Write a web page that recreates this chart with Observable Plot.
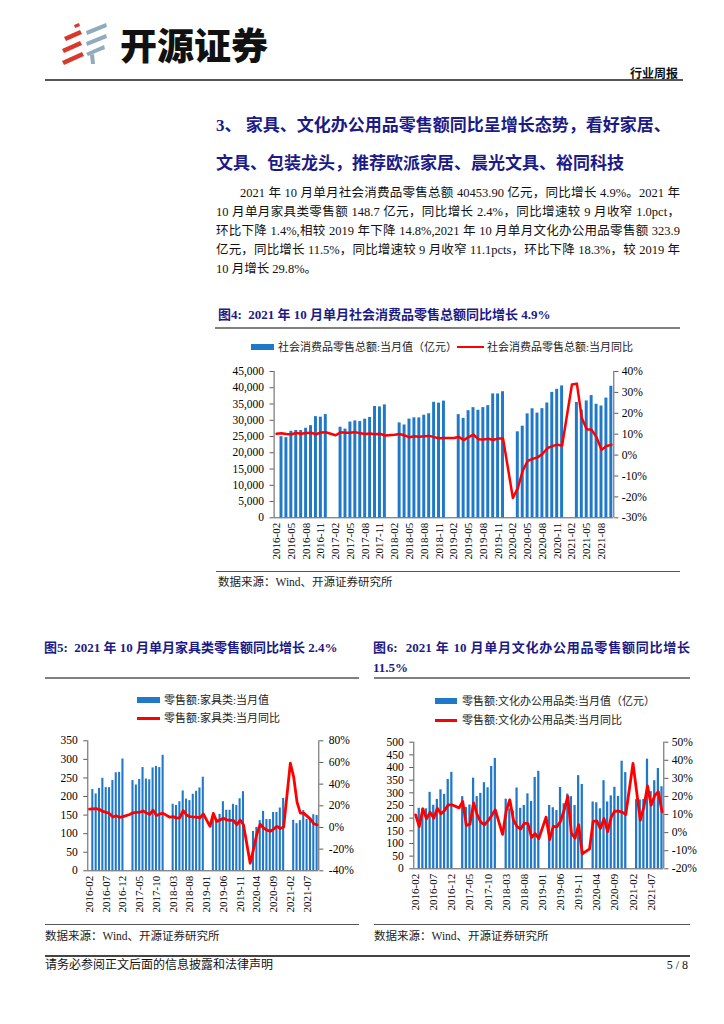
<!DOCTYPE html>
<html><head><meta charset="utf-8">
<script src="https://cdn.jsdelivr.net/npm/d3@7"></script>
<script src="https://cdn.jsdelivr.net/npm/@observablehq/plot@0.6"></script>
<style>
body{margin:0;background:#fff;}
#page{position:relative;width:724px;height:1024px;overflow:hidden;background:#fff;font-family:"Liberation Serif","Noto Sans CJK SC",serif;color:#111;}
.a{position:absolute;white-space:nowrap;}
.hr{position:absolute;height:0;}
.ttl{font-weight:700;color:#1c1a86;font-size:13px;line-height:18px;}
.jl{font-size:12.5px;line-height:19px;text-align:justify;text-align-last:justify;overflow:visible;}
.hd{font-weight:700;color:#1c1a86;font-size:17px;line-height:24px;}
.lg{font-size:11px;line-height:14px;color:#222;}
.src{font-size:11.5px;line-height:16px;color:#222;}
.plot{position:absolute;}
.plot svg{max-width:none !important;}
</style></head>
<body><div id="page">
<svg class="a" style="left:60px;top:23px" width="48" height="42" viewBox="0 0 48 42">
  <polygon points="14,2 19,0 20,3 15,5" fill="#d8392c"/>
  <polygon points="4,14 20,7 22,11 6,18" fill="#d8392c"/>
  <polygon points="2,26 20,18 22,22 4,30" fill="#d8392c"/>
  <polygon points="2,38 22,29 24,33 4,42" fill="#d8392c"/>
  <polygon points="26,8 46,0 47,4 27,12" fill="#90abbc"/>
  <polygon points="26,19 46,11 47,15 27,23" fill="#90abbc"/>
  <polygon points="26,30 44,22 45,26 28,33" fill="#90abbc"/>
  <polygon points="30,32 34,31 35,41 31,41" fill="#90abbc"/>
</svg>
<div class="a" style="left:120px;top:26px;font-family:'Noto Sans CJK SC';font-weight:900;font-size:37px;line-height:37px;color:#111;">开源证券</div>
<div class="a" style="right:46px;top:66px;font-family:'Noto Sans CJK SC';font-weight:700;font-size:12px;line-height:14px;">行业周报</div>
<div class="hr" style="left:45px;width:638px;top:79px;border-top:2px solid #555;"></div>

<div class="a hd" style="left:216px;top:114px;">3、&nbsp;家具、文化办公用品零售额同比呈增长态势，看好家居、</div>
<div class="a hd" style="left:216px;top:152px;">文具、包装龙头，推荐欧派家居、晨光文具、裕同科技</div>

<div class="a jl" style="left:240px;top:184px;width:440px;">2021 年 10 月单月社会消费品零售总额 40453.90 亿元，同比增长 4.9%。2021 年</div>
<div class="a jl" style="left:216px;top:203px;width:464px;">10 月单月家具类零售额 148.7 亿元，同比增长 2.4%，同比增速较 9 月收窄 1.0pct，</div>
<div class="a jl" style="left:216px;top:222px;width:464px;">环比下降 1.4%,相较 2019 年下降 14.8%,2021 年 10 月单月文化办公用品零售额 323.9</div>
<div class="a jl" style="left:216px;top:241px;width:464px;">亿元，同比增长 11.5%，同比增速较 9 月收窄 11.1pcts，环比下降 18.3%，较 2019 年</div>
<div class="a" style="left:216px;top:260px;font-size:12.5px;line-height:19px;">10 月增长 29.8%。</div>

<div class="a ttl" style="left:218px;top:306px;">图4:&nbsp; 2021 年 10 月单月社会消费品零售总额同比增长 4.9%</div>
<div class="hr" style="left:215px;width:465px;top:327px;border-top:2px solid #808080;"></div>

<div class="a" style="left:251px;top:344px;width:23px;height:6px;background:#1f78c8;"></div>
<div class="a lg" style="left:278px;top:340px;">社会消费品零售总额:当月值（亿元）</div>
<div class="a" style="left:457px;top:346px;width:27px;height:0;border-top:2.5px solid #ff0000;"></div>
<div class="a lg" style="left:487px;top:340px;">社会消费品零售总额:当月同比</div>
<div class="plot" id="c1" style="left:215px;top:360px;width:450px;"></div>
<div class="hr" style="left:216px;width:464px;top:571px;border-top:1.5px solid #555;"></div>
<div class="a src" style="left:218px;top:574px;">数据来源：Wind、开源证券研究所</div>

<div class="a ttl" style="left:44px;top:639px;">图5:&nbsp; 2021 年 10 月单月家具类零售额同比增长 2.4%</div>
<div class="a ttl" style="left:373px;top:639px;width:317px;text-align:justify;text-align-last:justify;">图6:&nbsp; 2021 年 10 月单月文化办公用品零售额同比增长</div>
<div class="a ttl" style="left:373px;top:659px;">11.5%</div>
<div class="hr" style="left:45px;width:314px;top:677px;border-top:2px solid #808080;"></div>
<div class="hr" style="left:374px;width:316px;top:677px;border-top:2px solid #808080;"></div>

<div class="a" style="left:137px;top:697px;width:23px;height:6px;background:#1f78c8;"></div>
<div class="a lg" style="left:164px;top:693px;">零售额:家具类:当月值</div>
<div class="a" style="left:137px;top:717px;width:23px;height:0;border-top:3px solid #ff0000;"></div>
<div class="a lg" style="left:164px;top:711px;">零售额:家具类:当月同比</div>
<div class="plot" id="c2" style="left:40px;top:730px;width:314px;"></div>

<div class="a" style="left:435px;top:698px;width:22px;height:6px;background:#1f78c8;"></div>
<div class="a lg" style="left:462px;top:694px;">零售额:文化办公用品类:当月值（亿元）</div>
<div class="a" style="left:435px;top:719px;width:22px;height:0;border-top:3px solid #ff0000;"></div>
<div class="a lg" style="left:462px;top:713px;">零售额:文化办公用品类:当月同比</div>
<div class="plot" id="c3" style="left:370px;top:730px;width:345px;"></div>

<div class="hr" style="left:45px;width:314px;top:924px;border-top:1.5px solid #555;"></div>
<div class="hr" style="left:374px;width:316px;top:924px;border-top:1.5px solid #555;"></div>
<div class="a src" style="left:45px;top:928px;">数据来源：Wind、开源证券研究所</div>
<div class="a src" style="left:374px;top:928px;">数据来源：Wind、开源证券研究所</div>

<div class="hr" style="left:45px;width:645px;top:955px;border-top:2px solid #444;"></div>
<div class="a" style="left:45px;top:957px;font-size:12px;line-height:16px;">请务必参阅正文后面的信息披露和法律声明</div>
<div class="a" style="right:36px;top:957px;font-size:12px;line-height:16px;">5 / 8</div>
</div>
<script>
// ---- categories: months 2016-02 .. 2021-10 ----
const startMonth = "2016-02", endMonth = "2021-10";
const cats = [];
for (let y = 2016; y <= 2021; y++) for (let m = 1; m <= 12; m++) {
  const s = `${y}-${String(m).padStart(2, "0")}`;
  if (s >= startMonth && s <= endMonth) cats.push(s);
}

// ---- Fig 4: total retail sales of consumer goods (亿元) and YoY (%) ----
const retailValue = [
  null, 24938, 24646, 26611, 26857, 26827, 27540, 28333, 31119, 30959, 31757,          // 2016 Feb-Dec
  null, null, 27864, 27278, 29459, 29808, 29610, 30330, 30870, 34240, 34108, 34734,   // 2017
  null, null, 29194, 28542, 30359, 30748, 30734, 31542, 32005, 35534, 35260, 35893,   // 2018
  null, null, 31726, 30586, 32956, 33878, 33073, 33896, 34495, 38104, 38094, 38777,   // 2019
  null, null, 26450, 28178, 31973, 33526, 32203, 33571, 35295, 38576, 39514, 40566,   // 2020
  null, null, 35484, 33153, 35945, 37586, 34925, 34395, 36833, 40454                  // 2021 Jan-Oct
];
const retailYoY = [
  10.2, 10.5, 10.1, 10.0, 10.6, 10.2, 10.6, 10.7, 10.0, 10.8, 10.9,
  null, 9.5, 10.9, 10.7, 10.7, 11.0, 10.4, 10.1, 10.3, 10.0, 10.2, 9.4,
  null, 9.7, 10.1, 9.4, 8.5, 9.0, 8.8, 9.0, 9.2, 8.6, 8.1, 8.2,
  null, 8.2, 8.7, 7.2, 8.6, 9.8, 7.6, 7.5, 7.8, 7.2, 8.0, 8.0,
  null, -20.5, -15.8, -7.5, -2.8, -1.8, -1.1, 0.5, 3.3, 4.3, 5.0, 4.6,
  null, 33.8, 34.2, 17.7, 12.4, 12.1, 8.5, 2.5, 4.4, 4.9
];

// ---- Fig 5: furniture retail sales (亿元) and YoY (%) ----
const furnitureValue = [
  null, 219, 207, 222, 249, 224, 224, 243, 264, 265, 301,
  null, null, 243, 231, 246, 278, 247, 245, 277, 281, 278, 311,
  null, null, 179, 176, 186, 215, 193, 189, 206, 214, 223, 252,
  null, null, 147, 139, 152, 186, 163, 163, 179, 176, 194, 213,
  null, null, 106, 117, 135, 160, 138, 138, 157, 157, 169, 195,
  null, null, 136, 127, 135, 162, 138, 138, 151, 149
];
const furnitureYoY = [
  16.9, 17.2, 17.3, 16.5, 14.8, 14.0, 12.6, 9.6, 10.8, 9.3, 10.0,
  null, 12.0, 13.5, 14.0, 14.0, 15.2, 13.5, 12.0, 16.0, 11.0, 12.5, 13.0,
  null, 9.5, 10.0, 8.6, 9.0, 15.5, 11.5, 10.0, 9.7, 9.5, 8.8, 12.5,
  null, 1.0, 13.0, 5.5, 7.0, 8.5, 7.0, 6.5, 6.5, 2.5, 6.8, 2.5,
  null, -33.0, -20.0, -6.0, 3.0, -0.5, -2.5, -3.5, -1.5, 1.0, -1.0, 0.5,
  null, 59.4, 46.5, 23.4, 13.2, 13.2, 10.5, 7.7, 3.4, 2.4
];

// ---- Fig 6: cultural & office supplies retail sales (亿元) and YoY (%) ----
const officeValue = [
  null, 239, 237, 237, 302, 251, 274, 312, 294, 353, 381,
  null, null, 285, 242, 252, 358, 285, 298, 340, 320, 404, 436,
  null, null, 275, 237, 228, 319, 239, 250, 296, 266, 361, 385,
  null, null, 250, 241, 230, 321, 257, 295, 285, 250, 368, 333,
  null, null, 264, 261, 237, 348, 264, 288, 322, 286, 425, 380,
  null, null, 273, 272, 274, 433, 305, 348, 396, 324
];
const officeYoY = [
  9.8, 3.4, 13.2, 7.6, 11.3, 8.0, 13.5, 10.4, 12.2, 15.4, 15.4,
  null, 13.7, 17.2, 4.0, 4.6, 16.4, 9.8, 5.8, 4.3, 6.6, 9.5, 12.6,
  null, -1.0, 12.0, 18.2, 7.0, 3.3, 2.0, 5.2, 5.0, -2.7, -0.5, -3.3,
  null, 8.6, -3.8, 3.5, 3.2, 6.3, 12.5, 20.0, -0.3, -3.0, 4.4, -11.7,
  null, -9.0, 6.2, 6.5, 2.2, 7.8, 0.5, 8.7, 11.9, 11.9, 11.3, 10.0,
  null, 38.3, 22.8, 6.8, 14.2, 25.8, 15.2, 20.5, 22.6, 11.5
];

// ---- tick labels ----
const xTicksFig4 = ["2016-02","2016-05","2016-08","2016-11","2017-02","2017-05","2017-08","2017-11","2018-02","2018-05","2018-08","2018-11","2019-02","2019-05","2019-08","2019-11","2020-02","2020-05","2020-08","2020-11","2021-02","2021-05","2021-08"];
const xTicksFig56 = ["2016-02","2016-07","2016-12","2017-05","2017-10","2018-03","2018-08","2019-01","2019-06","2019-11","2020-04","2020-09","2021-02","2021-07"];
const leftTicksFig4 = [0,5000,10000,15000,20000,25000,30000,35000,40000,45000];
const rightTicksFig4 = [-30,-20,-10,0,10,20,30,40];
const leftTicksFig5 = [0,50,100,150,200,250,300,350];
const rightTicksFig5 = [-40,-20,0,20,40,60,80];
const leftTicksFig6 = [0,50,100,150,200,250,300,350,400,450,500];
const rightTicksFig6 = [-20,-10,0,10,20,30,40,50];

const BAR = "#1f78c8", AXIS = "#5a5a5a";

function dualChart(cfg) {
  const n = cats.length;
  const [l0, l1] = cfg.left, [r0, r1] = cfg.right;
  const toL = r => l0 + (r - r0) / (r1 - r0) * (l1 - l0);
  const toR = v => Math.round(r0 + (v - l0) / (l1 - l0) * (r1 - r0));
  const rows = cats.map((c, i) => ({i, c, v: cfg.bars[i], r: cfg.line[i]}));
  const half = cfg.barFrac / 2;
  return Plot.plot({
    width: cfg.width, height: cfg.height,
    marginLeft: cfg.ml, marginRight: cfg.mr, marginTop: cfg.mt, marginBottom: cfg.mb,
    style: {fontFamily: '"Liberation Serif", "Noto Sans CJK SC", serif', fontSize: "11.5px", color: "#000", background: "transparent", overflow: "visible", maxWidth: "none"},
    x: {domain: [0, n], axis: null},
    y: {domain: [l0, l1], axis: null},
    marks: [
      Plot.rect(rows.filter(d => d.v != null), {x1: d => d.i + 0.5 - half, x2: d => d.i + 0.5 + half, y1: l0, y2: "v", fill: BAR}),
      Plot.ruleX([0, n], {stroke: AXIS}),
      Plot.ruleY([l0], {stroke: AXIS}),
      Plot.line(rows.filter(d => d.r != null), {x: d => d.i + 0.5, y: d => toL(d.r), stroke: "#ff0000", strokeWidth: cfg.lw, strokeLinejoin: "round", strokeLinecap: "round"}),
      Plot.axisY(cfg.leftTicks, {anchor: "left", tickSize: 4, tickPadding: cfg.lpad, tickFormat: cfg.leftFormat, label: null, stroke: AXIS}),
      Plot.axisY(cfg.rightTicks.map(toL), {anchor: "right", tickSize: 4, tickPadding: cfg.rpad, tickFormat: v => toR(v) + "%", label: null, stroke: AXIS}),
      Plot.axisX(cfg.xTicks.map(t => cats.indexOf(t) + 0.5), {anchor: "bottom", tickSize: 0, tickPadding: 5, tickRotate: -90, fontSize: 11, tickFormat: v => cats[Math.floor(v)], label: null})
    ]
  });
}

document.getElementById("c1").append(dualChart({
  bars: retailValue, line: retailYoY, left: [0, 45000], right: [-30, 40],
  leftTicks: leftTicksFig4, rightTicks: rightTicksFig4, leftFormat: d3.format(","), xTicks: xTicksFig4,
  width: 450, height: 206, ml: 58.6, mr: 51.7, mt: 11, mb: 48.7, barFrac: 0.6, lw: 2.5, lpad: 6, rpad: 4
}));
document.getElementById("c2").append(dualChart({
  bars: furnitureValue, line: furnitureYoY, left: [0, 350], right: [-40, 80],
  leftTicks: leftTicksFig5, rightTicks: rightTicksFig5, leftFormat: d => String(d), xTicks: xTicksFig56,
  width: 314, height: 188, ml: 47.3, mr: 35.7, mt: 10.3, mb: 47.7, barFrac: 0.62, lw: 2.8, lpad: 6, rpad: 6
}));
document.getElementById("c3").append(dualChart({
  bars: officeValue, line: officeYoY, left: [0, 500], right: [-20, 50],
  leftTicks: leftTicksFig6, rightTicks: rightTicksFig6, leftFormat: d => String(d), xTicks: xTicksFig56,
  width: 345, height: 186, ml: 43.3, mr: 51.7, mt: 11.7, mb: 47.7, barFrac: 0.62, lw: 2.8, lpad: 6, rpad: 4
}));

// fit justified lines into their width
document.querySelectorAll(".jl").forEach(el => {
  let fs = 12.5;
  while (el.scrollWidth > el.clientWidth + 0.5 && fs > 10) { fs -= 0.1; el.style.fontSize = fs + "px"; }
});
</script>
</body></html>
